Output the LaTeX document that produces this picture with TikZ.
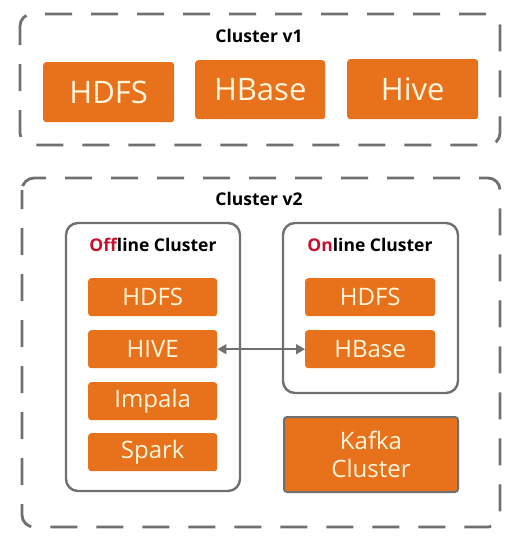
\documentclass[tikz,border=0pt]{standalone}
\usepackage{fontspec}
\setmainfont{Open Sans}
\usetikzlibrary{arrows.meta}
\definecolor{org}{HTML}{E8721C}
\definecolor{gry}{HTML}{707070}
\definecolor{txt}{HTML}{FFF6DC}
\definecolor{redt}{HTML}{C8102E}
\begin{document}
\begin{tikzpicture}[x=1pt,y=-1pt,
  dashbox/.style={draw=gry,line width=2.8pt,dash pattern=on 27pt off 19pt,dash phase=8pt,rounded corners=12pt},
  grpbox/.style={draw=gry,line width=2.4pt,rounded corners=12pt},
  bigbox/.style={fill=org,rounded corners=3pt,text=txt,font=\fontsize{31}{33}\selectfont,anchor=north west,inner sep=0pt},
  smbox/.style={fill=org,rounded corners=3pt,text=txt,font=\fontsize{24}{26}\selectfont,anchor=north west,inner sep=0pt,minimum width=129pt,minimum height=38pt},
  ttl/.style={font=\fontsize{17.5}{19}\selectfont\bfseries,text=black}]
\useasboundingbox (0,0) rectangle (518,538);
% Cluster v1
\draw[dashbox] (20,14) rectangle (500,145);
\node[ttl] (t1) at (259,36) {Cluster v1};
\node[bigbox,minimum width=131pt,minimum height=60pt] (h1) at (43,62) {HDFS};
\node[bigbox,minimum width=130pt,minimum height=59pt] (h2) at (195,60) {HBase};
\node[bigbox,minimum width=131pt,minimum height=60pt] (h3) at (347,59) {Hive};
% Cluster v2
\draw[dashbox] (22,178) rectangle (500,527);
\node[ttl] (t2) at (259,199) {Cluster v2};
% Offline
\draw[grpbox] (66,223) rectangle (240,491);
\node[ttl] (off) at (153,245) {\textcolor{redt}{Off}line Cluster};
\node[smbox] (o1) at (88,278) {HDFS};
\node[smbox] (o2) at (88,330) {HIVE};
\node[smbox] (o3) at (88,382) {Impala};
\node[smbox] (o4) at (88,433) {Spark};
% Online
\draw[grpbox] (283,223) rectangle (458,393);
\node[ttl] (on) at (370,245) {\textcolor{redt}{On}line Cluster};
\node[smbox,minimum width=130pt] (n1) at (305,278) {HDFS};
\node[smbox,minimum width=130pt] (n2) at (305,330) {HBase};
% Kafka
\node[fill=org,draw=gry,line width=2pt,rounded corners=3pt,text=txt,font=\fontsize{24}{28}\selectfont,anchor=north west,inner sep=0pt,minimum width=174pt,minimum height=75pt,align=center] (k) at (283,416) {Kafka\\Cluster};
% arrow
\draw[gry,line width=1.5pt,{Triangle[length=9pt,width=10pt]}-{Triangle[length=9pt,width=10pt]}] (o2.east) -- (n2.west);
\end{tikzpicture}
\end{document}
